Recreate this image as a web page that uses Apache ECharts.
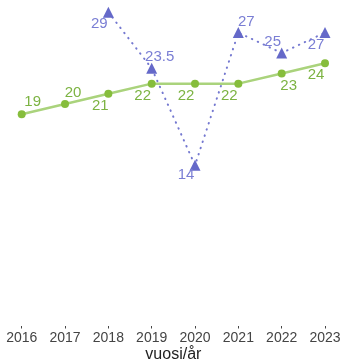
<!DOCTYPE html>
<html>
<head>
<meta charset="utf-8">
<script src="https://cdn.jsdelivr.net/npm/echarts@6/dist/echarts.min.js"></script>
<style>
  html, body { margin: 0; padding: 0; background: #fff; }
  #chart { width: 342px; height: 362px; }
</style>
</head>
<body>
<div id="chart"></div>
<script>
// Years on the horizontal axis
const years = ['2016', '2017', '2018', '2019', '2020', '2021', '2022', '2023'];
// Solid green series
const greenValues = [19, 20, 21, 22, 22, 22, 23, 24];
// Dotted blue series (no values for the first two years)
const blueValues = [null, null, 29, 23.5, 14, 27, 25, 27];
const axisTitle = 'vuosi/år';

// Label placement around each point, in pixels [dx, dy]
const greenLabelOffsets = [[11, -12], [8, -11], [-8, 12], [-9, 12], [-9, 12], [-9, 12], [7, 12], [-9, 12]];
const blueLabelOffsets = [null, null, [-9, 12], [8, -11], [-9, 10], [8, -11], [-9, -11], [-9, 12]];

const FONT = 'Liberation Sans, Arial, Helvetica, sans-serif';

function withLabels(values, offsets, color) {
  return values.map((v, i) => {
    if (v === null) return null;
    return {
      value: v,
      label: {
        show: true,
        position: 'inside',
        offset: offsets[i],
        color: color,
        fontSize: 15,
        fontFamily: FONT,
        align: 'center',
        verticalAlign: 'middle'
      }
    };
  });
}

const chart = echarts.init(document.getElementById('chart'), null, { renderer: 'canvas' });
chart.setOption({
  animation: false,
  backgroundColor: '#ffffff',
  grid: {
    left: 21.7, right: 17, top: 2, bottom: 33.5,
    containLabel: false,
    outerBoundsMode: 'none'
  },
  xAxis: {
    type: 'category',
    data: years,
    boundaryGap: false,
    axisLine: { show: false, onZero: false },
    axisTick: { show: true, inside: true, length: 2.5, lineStyle: { color: '#444' } },
    axisLabel: { color: '#444', fontSize: 14, fontFamily: FONT, margin: 3 },
    splitLine: { show: false },
    name: axisTitle,
    nameLocation: 'middle',
    nameGap: 26.5,
    nameMoveOverlap: false,
    nameTextStyle: { color: '#222', fontSize: 16, fontFamily: FONT, verticalAlign: 'middle' }
  },
  yAxis: {
    type: 'value',
    min: -2,
    max: 30,
    show: false
  },
  series: [
    {
      type: 'line',
      data: withLabels(greenValues, greenLabelOffsets, '#7cb342'),
      symbol: 'circle',
      symbolSize: 8,
      itemStyle: { color: '#86bd3c' },
      lineStyle: { color: '#aad37c', width: 2.5 },
      z: 2
    },
    {
      type: 'line',
      data: withLabels(blueValues, blueLabelOffsets, '#7a7ed4'),
      symbol: 'triangle',
      symbolSize: 11,
      connectNulls: false,
      itemStyle: { color: '#6569c9' },
      lineStyle: { color: '#7478d0', width: 2, type: [0.5, 6], cap: 'round' },
      z: 3
    }
  ]
});
</script>
</body>
</html>
